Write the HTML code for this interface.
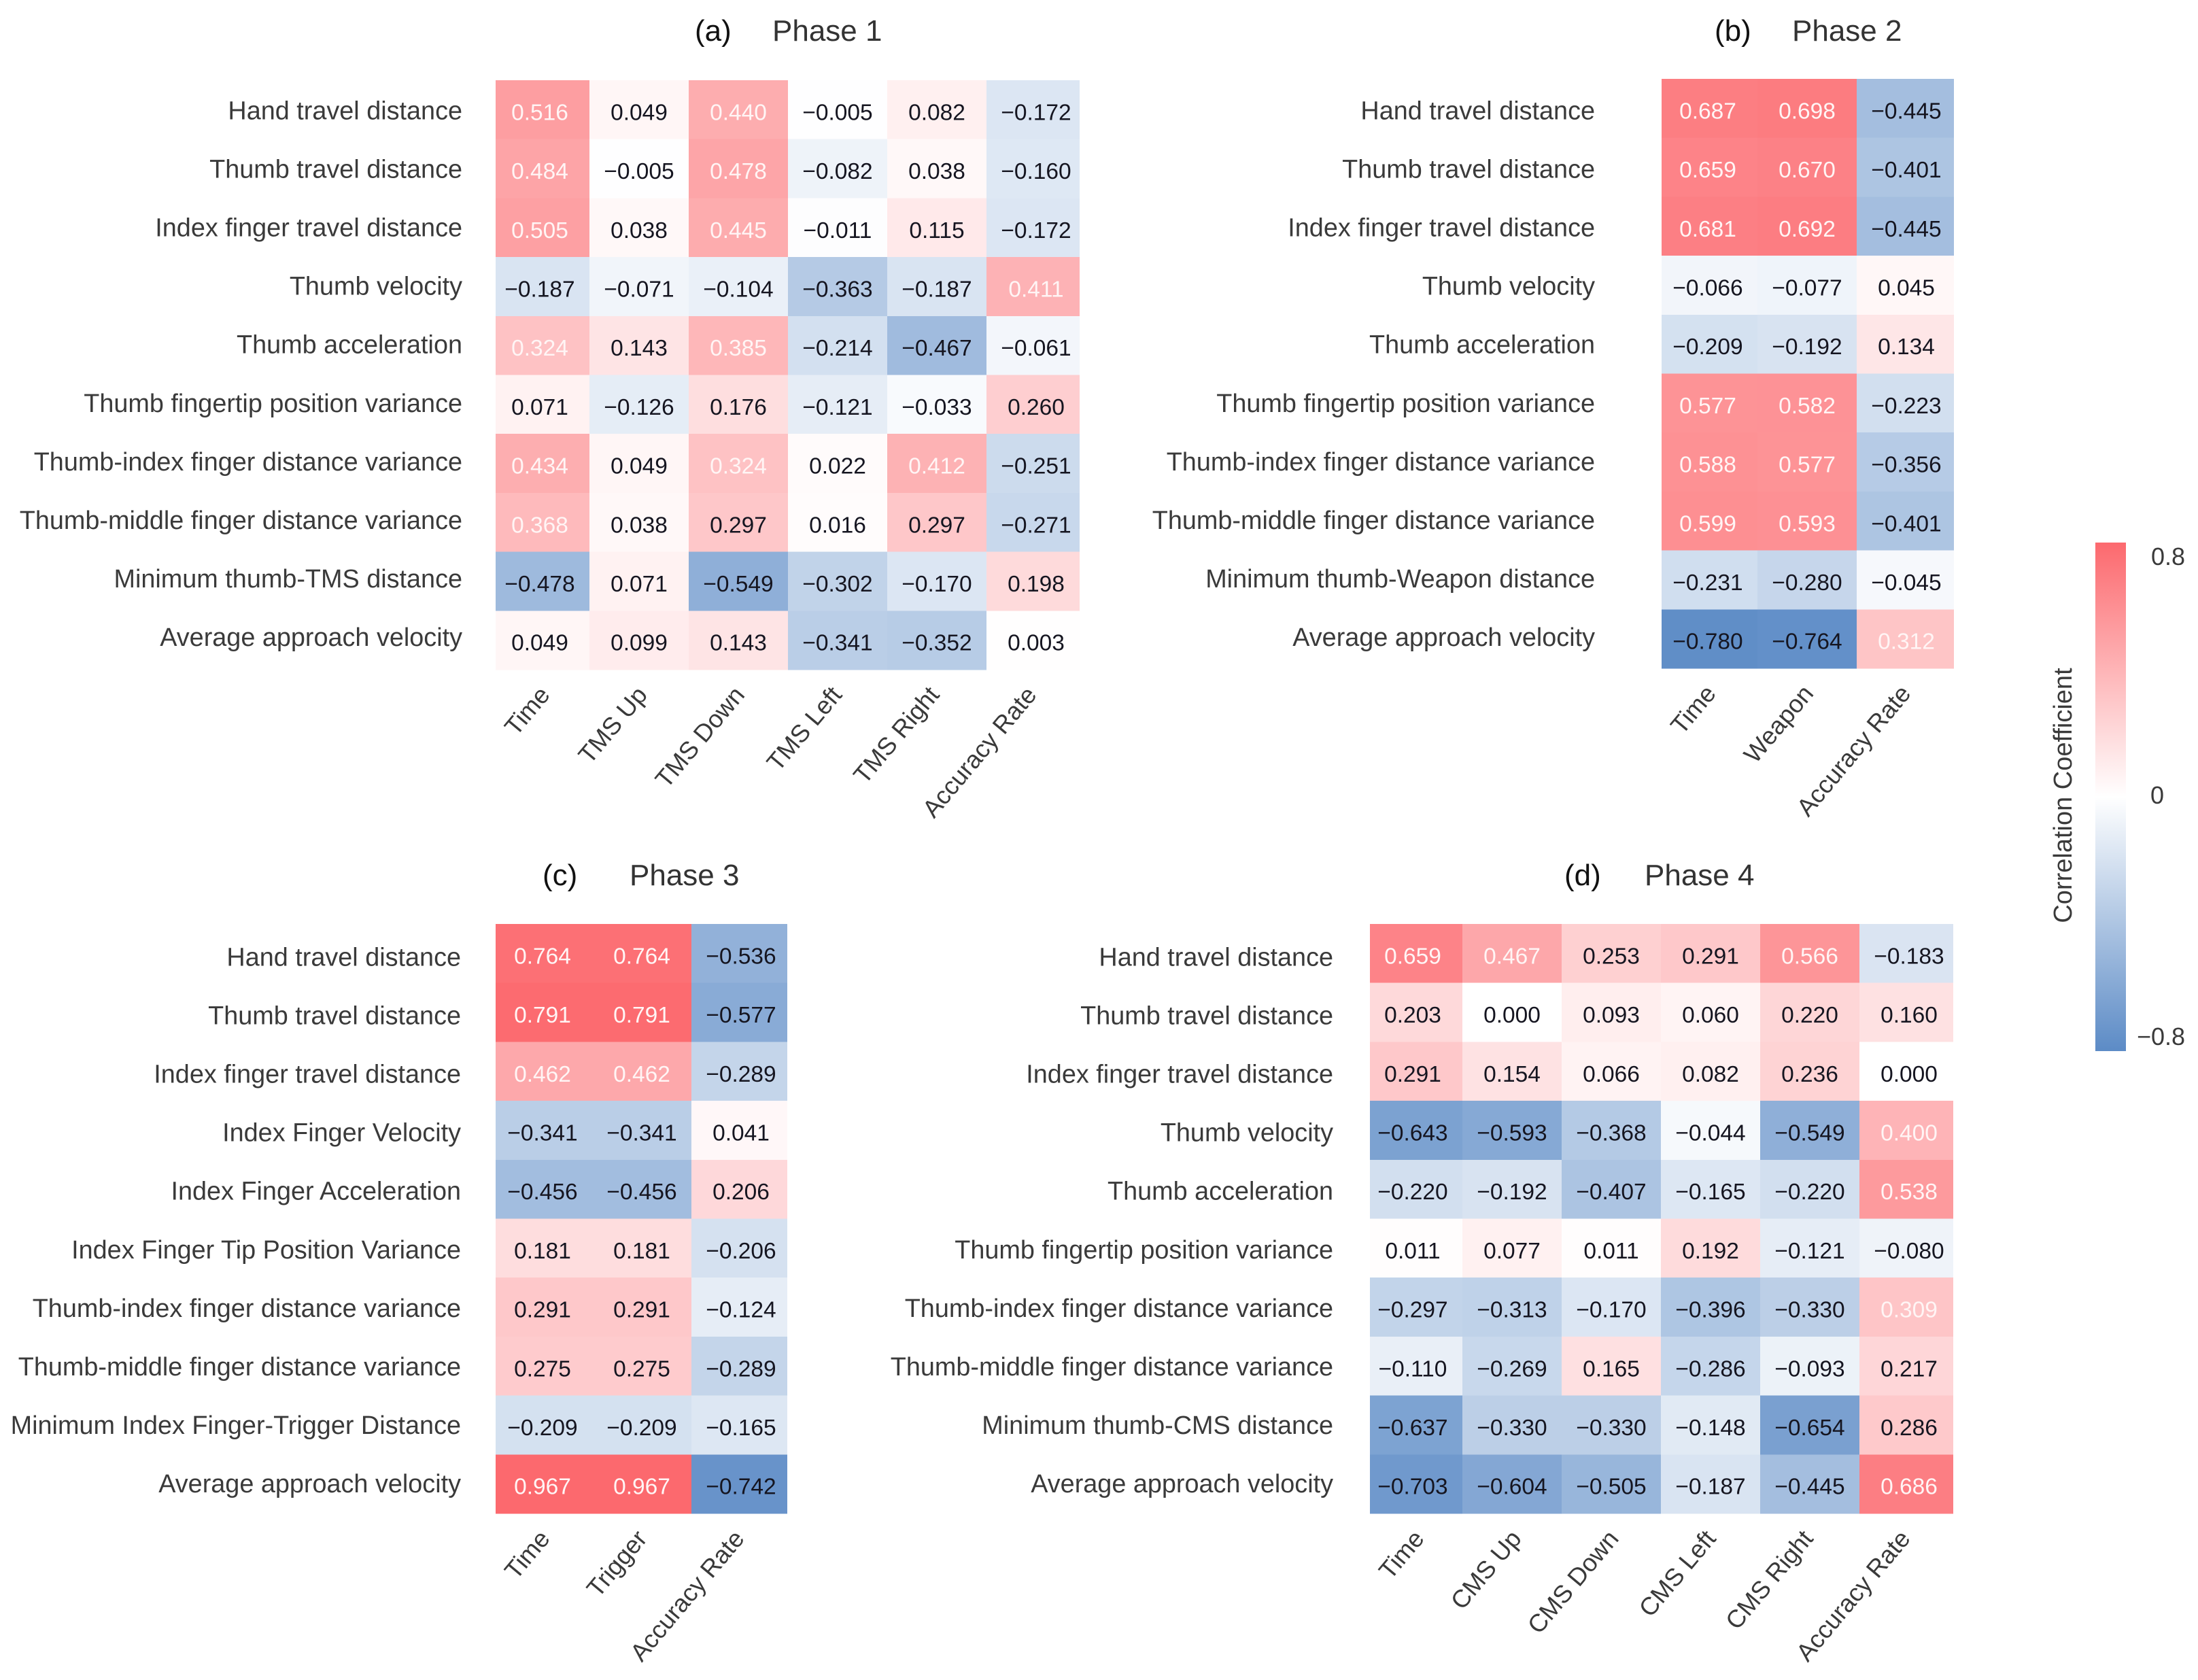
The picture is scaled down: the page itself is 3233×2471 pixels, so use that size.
<!DOCTYPE html>
<html lang="en">
<head>
<meta charset="utf-8">
<title>Correlation heatmaps by phase</title>
<style>
html,body{margin:0;padding:0;background:#fff;}
body{width:3233px;height:2471px;overflow:hidden;}
svg{display:block;font-family:"Liberation Sans",sans-serif;}
</style>
</head>
<body>
<svg id="figure" xmlns="http://www.w3.org/2000/svg" width="3233" height="2471" viewBox="0 0 3233 2471">
  <rect x="0" y="0" width="3233" height="2471" fill="#ffffff"/>
  <defs>
    <linearGradient id="cbar-gradient" x1="0" y1="0" x2="0" y2="1">
      <stop offset="0" stop-color="#fc696e"/>
      <stop offset="0.5" stop-color="#ffffff"/>
      <stop offset="1" stop-color="#5c8bc6"/>
    </linearGradient>
  </defs>
  <g id="panel-a"></g>
  <g id="panel-b"></g>
  <g id="panel-c"></g>
  <g id="panel-d"></g>
  <g>
    <rect x="3082" y="798" width="45" height="748" fill="url(#cbar-gradient)"/>
    <text x="3164" y="831" font-size="36" fill="#3a3a3a">0.8</text>
    <text x="3163" y="1182" font-size="36" fill="#3a3a3a">0</text>
    <text x="3143" y="1537" font-size="36" fill="#3a3a3a">−0.8</text>
    <text transform="translate(3047 1170) rotate(-90)" text-anchor="middle" font-size="38" fill="#3a3a3a">Correlation Coefficient</text>
  </g>
</svg>
<script>
const rowLabelsPhase1 = ["Hand travel distance","Thumb travel distance","Index finger travel distance","Thumb velocity","Thumb acceleration","Thumb fingertip position variance","Thumb-index finger distance variance","Thumb-middle finger distance variance","Minimum thumb-TMS distance","Average approach velocity"];
const rowLabelsPhase2 = ["Hand travel distance","Thumb travel distance","Index finger travel distance","Thumb velocity","Thumb acceleration","Thumb fingertip position variance","Thumb-index finger distance variance","Thumb-middle finger distance variance","Minimum thumb-Weapon distance","Average approach velocity"];
const rowLabelsPhase3 = ["Hand travel distance","Thumb travel distance","Index finger travel distance","Index Finger Velocity","Index Finger Acceleration","Index Finger Tip Position Variance","Thumb-index finger distance variance","Thumb-middle finger distance variance","Minimum Index Finger-Trigger Distance","Average approach velocity"];
const rowLabelsPhase4 = ["Hand travel distance","Thumb travel distance","Index finger travel distance","Thumb velocity","Thumb acceleration","Thumb fingertip position variance","Thumb-index finger distance variance","Thumb-middle finger distance variance","Minimum thumb-CMS distance","Average approach velocity"];

const columnsPhase1 = ["Time","TMS Up","TMS Down","TMS Left","TMS Right","Accuracy Rate"];
const columnsPhase2 = ["Time","Weapon","Accuracy Rate"];
const columnsPhase3 = ["Time","Trigger","Accuracy Rate"];
const columnsPhase4 = ["Time","CMS Up","CMS Down","CMS Left","CMS Right","Accuracy Rate"];

const valuesPhase1 = [
  [0.516,0.049,0.440,-0.005,0.082,-0.172],
  [0.484,-0.005,0.478,-0.082,0.038,-0.160],
  [0.505,0.038,0.445,-0.011,0.115,-0.172],
  [-0.187,-0.071,-0.104,-0.363,-0.187,0.411],
  [0.324,0.143,0.385,-0.214,-0.467,-0.061],
  [0.071,-0.126,0.176,-0.121,-0.033,0.260],
  [0.434,0.049,0.324,0.022,0.412,-0.251],
  [0.368,0.038,0.297,0.016,0.297,-0.271],
  [-0.478,0.071,-0.549,-0.302,-0.170,0.198],
  [0.049,0.099,0.143,-0.341,-0.352,0.003]
];
const valuesPhase2 = [
  [0.687,0.698,-0.445],
  [0.659,0.670,-0.401],
  [0.681,0.692,-0.445],
  [-0.066,-0.077,0.045],
  [-0.209,-0.192,0.134],
  [0.577,0.582,-0.223],
  [0.588,0.577,-0.356],
  [0.599,0.593,-0.401],
  [-0.231,-0.280,-0.045],
  [-0.780,-0.764,0.312]
];
const valuesPhase3 = [
  [0.764,0.764,-0.536],
  [0.791,0.791,-0.577],
  [0.462,0.462,-0.289],
  [-0.341,-0.341,0.041],
  [-0.456,-0.456,0.206],
  [0.181,0.181,-0.206],
  [0.291,0.291,-0.124],
  [0.275,0.275,-0.289],
  [-0.209,-0.209,-0.165],
  [0.967,0.967,-0.742]
];
const valuesPhase4 = [
  [0.659,0.467,0.253,0.291,0.566,-0.183],
  [0.203,0.000,0.093,0.060,0.220,0.160],
  [0.291,0.154,0.066,0.082,0.236,0.000],
  [-0.643,-0.593,-0.368,-0.044,-0.549,0.400],
  [-0.220,-0.192,-0.407,-0.165,-0.220,0.538],
  [0.011,0.077,0.011,0.192,-0.121,-0.080],
  [-0.297,-0.313,-0.170,-0.396,-0.330,0.309],
  [-0.110,-0.269,0.165,-0.286,-0.093,0.217],
  [-0.637,-0.330,-0.330,-0.148,-0.654,0.286],
  [-0.703,-0.604,-0.505,-0.187,-0.445,0.686]
];

const SVG_NS = "http://www.w3.org/2000/svg";
const COLOR_LIMIT = 0.8;
const RED_END = [252,105,110];
const BLUE_END = [92,139,198];
const WHITE_TEXT_FROM = 0.3;
const ROW_STEP = 86.7;
const LABEL_ROW_STEP = 86.1;
const COL_STEP = 146;

function colorFor(v) {
  const t = Math.min(Math.abs(v) / COLOR_LIMIT, 1);
  const end = v >= 0 ? RED_END : BLUE_END;
  const ch = end.map(c => Math.round(255 + (c - 255) * t));
  return "rgb(" + ch.join(",") + ")";
}
function formatValue(v) {
  return (v < 0 ? "\u2212" : "") + Math.abs(v).toFixed(3);
}
function make(tag, attrs, parent, text) {
  const el = document.createElementNS(SVG_NS, tag);
  for (const k in attrs) el.setAttribute(k, attrs[k]);
  if (text !== undefined) el.textContent = text;
  parent.appendChild(el);
  return el;
}

function drawPanel(cfg) {
  const root = document.getElementById(cfg.id);
  const nCols = cfg.columns.length;
  const xEdge = i => Math.max(cfg.clipLeft, Math.min(cfg.clipRight, cfg.gridLeft + i * COL_STEP));
  const xCenter = i => cfg.gridLeft + (i + 0.5) * COL_STEP;
  const xTick = i => cfg.clipLeft + (i + 0.5) * (cfg.clipRight - cfg.clipLeft) / nCols;
  const yEdge = r => cfg.top + r * ROW_STEP;
  const yLabel = r => cfg.labelBaseline + r * LABEL_ROW_STEP;

  const titleTag = make("text", {x: cfg.tagX, y: cfg.titleY, "font-size": 44, fill: "#111111"}, root, cfg.tag);
  
  
  const title = make("text", {x: cfg.titleX, y: cfg.titleY, "font-size": 44, fill: "#333333"}, root, cfg.title);
  
  

  cfg.values.forEach((row, r) => {
    const rowLabel = make("text", {x: cfg.labelRight, y: yLabel(r), "text-anchor": "end", "font-size": 37.8, fill: "#3a3a3a"}, root, cfg.rows[r]);
    
    

    row.forEach((v, c) => {
      const cell = make("rect", {x: xEdge(c), y: yEdge(r), width: xEdge(c + 1) - xEdge(c), height: ROW_STEP + 0.4, fill: colorFor(v), "shape-rendering": "crispEdges"}, root);
      
      
    });
  });

  cfg.values.forEach((row, r) => {
    row.forEach((v, c) => {
      const label = make("text", {x: xCenter(c), y: yEdge(r) + ROW_STEP / 2 + 15, "text-anchor": "middle", "font-size": 33.5, fill: v >= WHITE_TEXT_FROM ? "#fff5f5" : "#151520"}, root, formatValue(v));
      
      
    });
  });

  const bottom = yEdge(cfg.values.length);
  cfg.columns.forEach((name, c) => {
    const tx = xTick(c) + 10;
    const ty = bottom + 38;
    const tick = make("text", {transform: "translate(" + tx + " " + ty + ") rotate(-50)", "text-anchor": "end", "font-size": 36.5, fill: "#3a3a3a"}, root, name);
    
    
  });
}

drawPanel({id: "panel-a", tag: "(a)", title: "Phase 1", tagX: 1022, titleX: 1136, titleY: 60, labelRight: 680, labelBaseline: 175.3, top: 118, gridLeft: 721, clipLeft: 729, clipRight: 1588, rows: rowLabelsPhase1, columns: columnsPhase1, values: valuesPhase1});
drawPanel({id: "panel-b", tag: "(b)", title: "Phase 2", tagX: 2522, titleX: 2636, titleY: 60, labelRight: 2346, labelBaseline: 175.3, top: 116, gridLeft: 2439, clipLeft: 2444, clipRight: 2874, rows: rowLabelsPhase2, columns: columnsPhase2, values: valuesPhase2});
drawPanel({id: "panel-c", tag: "(c)", title: "Phase 3", tagX: 798, titleX: 926, titleY: 1302, labelRight: 678, labelBaseline: 1420.3, top: 1359, gridLeft: 725, clipLeft: 729, clipRight: 1158, rows: rowLabelsPhase3, columns: columnsPhase3, values: valuesPhase3});
drawPanel({id: "panel-d", tag: "(d)", title: "Phase 4", tagX: 2301, titleX: 2419, titleY: 1302, labelRight: 1961, labelBaseline: 1420.3, top: 1359, gridLeft: 2005, clipLeft: 2015, clipRight: 2873, rows: rowLabelsPhase4, columns: columnsPhase4, values: valuesPhase4});
</script>
</body>
</html>
